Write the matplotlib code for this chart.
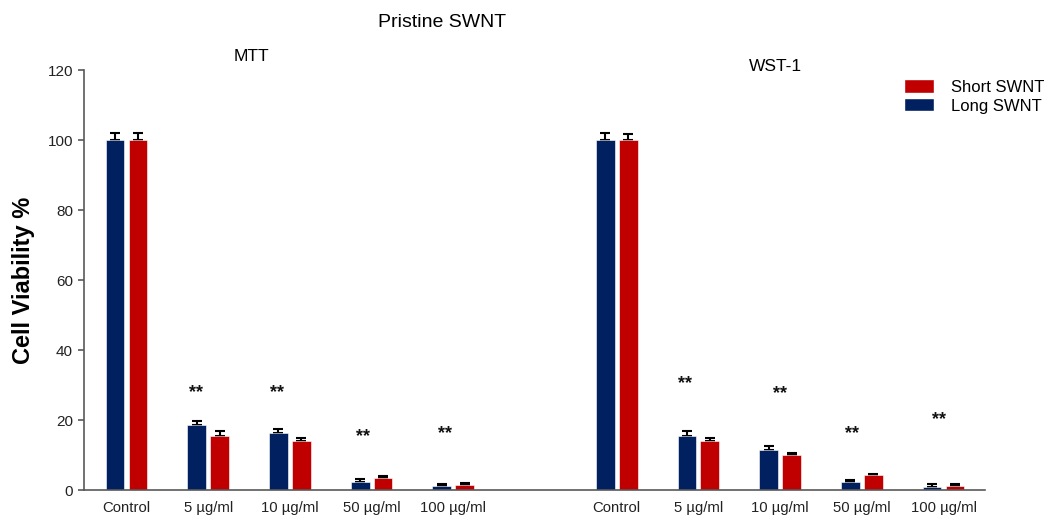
import matplotlib

matplotlib.use("Agg")
import matplotlib.pyplot as plt
import numpy as np
from matplotlib.patches import Patch

plt.rcParams["font.family"] = ["Liberation Sans", "DejaVu Sans"]

# data
groups = ["Control", "5 µg/ml", "10 µg/ml", "50 µg/ml", "100 µg/ml"]

mtt_long = [100.0, 18.6, 16.2, 2.4, 1.1]
mtt_long_err = [1.9, 1.2, 1.3, 0.7, 0.7]
mtt_short = [100.0, 15.3, 13.9, 3.3, 1.4]
mtt_short_err = [2.0, 1.7, 1.0, 0.7, 0.6]

wst_long = [100.0, 15.5, 11.3, 2.2, 0.8]
wst_long_err = [2.1, 1.5, 1.4, 0.7, 0.9]
wst_short = [100.0, 13.9, 10.0, 4.2, 1.2]
wst_short_err = [1.7, 1.0, 0.5, 0.5, 0.4]

# significance marks (height of the "**" baseline)
mtt_star_y = [26.5, 26.5, 14.0, 14.7]
wst_star_y = [29.0, 26.4, 14.7, 18.8]

blue = "#002060"
red = "#C00000"
axis_grey = "#595959"

fig = plt.figure(figsize=(10.54, 5.17), dpi=100)
ax = fig.add_axes([0.0797, 0.0522, 0.855, 0.8124])

pos_mtt = np.arange(len(groups))
pos_wst = pos_mtt + len(groups) + 1
width = 0.23
off = 0.14


def draw_assay(pos, long_v, long_e, short_v, short_e):
    zeros = np.zeros(len(pos))
    ax.errorbar(pos - off, long_v, yerr=[zeros, long_e], fmt="none",
                ecolor="black", elinewidth=1.5, capsize=3.5, capthick=1.5, zorder=1)
    ax.errorbar(pos + off, short_v, yerr=[zeros, short_e], fmt="none",
                ecolor="black", elinewidth=1.5, capsize=3.5, capthick=1.5, zorder=1)
    ax.bar(pos - off, long_v, width, color=blue, edgecolor="white",
           linewidth=0.4, zorder=2)
    ax.bar(pos + off, short_v, width, color=red, edgecolor="white",
           linewidth=0.4, zorder=2)


draw_assay(pos_mtt, mtt_long, mtt_long_err, mtt_short, mtt_short_err)
draw_assay(pos_wst, wst_long, wst_long_err, wst_short, wst_short_err)

star_shift_mtt = [-0.15, -0.16, -0.10, -0.10]
star_shift_wst = [-0.16, 0.0, -0.12, -0.05]
for p, y, s in zip(pos_mtt[1:], mtt_star_y, star_shift_mtt):
    ax.text(p + s, y, "**", ha="center", va="baseline", fontsize=13,
            fontweight="bold", color="#111111")
for p, y, s in zip(pos_wst[1:], wst_star_y, star_shift_wst):
    ax.text(p + s, y, "**", ha="center", va="baseline", fontsize=13,
            fontweight="bold", color="#111111")

ax.set_xlim(-0.52, 10.51)
ax.set_ylim(0, 120)
ax.set_yticks(np.arange(0, 121, 20))
ax.set_xticks(np.concatenate([pos_mtt, pos_wst]))
ax.set_xticklabels(groups + groups)

for side in ["top", "right"]:
    ax.spines[side].set_visible(False)
for side in ["left", "bottom"]:
    ax.spines[side].set_color(axis_grey)
    ax.spines[side].set_linewidth(1.2)

ax.tick_params(axis="y", length=4, width=1.2, color=axis_grey,
               labelsize=11, labelcolor="#222222", pad=4)
ax.tick_params(axis="x", length=0, labelsize=10.7, labelcolor="#222222", pad=8)

ax.set_ylabel("Cell Viability %", fontsize=17, fontweight="bold", labelpad=9)

fig.text(0.419, 0.957, "Pristine SWNT", ha="center", va="center", fontsize=14)
fig.text(0.239, 0.890, "MTT", ha="center", va="center", fontsize=12.5)
fig.text(0.736, 0.872, "WST-1", ha="center", va="center", fontsize=12.5)

handles = [Patch(facecolor=red, edgecolor="white"),
           Patch(facecolor=blue, edgecolor="white")]
fig.legend(handles, ["Short SWNT", "Long SWNT"], loc="upper left",
           bbox_to_anchor=(896 / 1054, 1 - 71 / 517), frameon=False,
           fontsize=12, borderpad=0, handlelength=1.75, handleheight=0.85,
           handletextpad=1.05, labelspacing=0.2)

fig.savefig("out.png", dpi=100)
